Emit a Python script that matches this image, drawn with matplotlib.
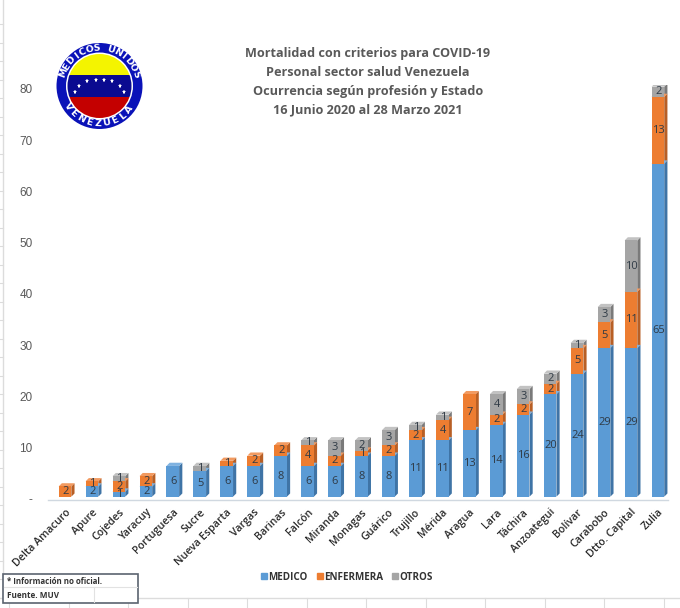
import numpy as np
import matplotlib
matplotlib.use("Agg")
import matplotlib.pyplot as plt
from matplotlib.patches import Circle, Rectangle, Polygon
from matplotlib.lines import Line2D

estados = ["Delta Amacuro","Apure","Cojedes","Yaracuy","Portuguesa","Sucre","Nueva Esparta","Vargas",
           "Barinas","Falcón","Miranda","Monagas","Guárico","Trujillo","Mérida","Aragua","Lara","Táchira",
           "Anzoategui","Bolívar","Carabobo","Dtto. Capital","Zulia"]
medico    = [0,2,1,2,6,5,6,6,8,6,6,8,8,11,11,13,14,16,20,24,29,29,65]
enfermera = [2,1,2,2,0,0,1,2,2,4,2,1,2,2,4,7,2,2,2,5,5,11,13]
otros     = [0,0,1,0,0,1,0,0,0,1,3,2,3,1,1,0,4,3,2,1,3,10,2]
titulo = ["Mortalidad con criterios para COVID-19","Personal sector salud Venezuela",
          "Ocurrencia según profesión y Estado","16 Junio 2020 al 28 Marzo 2021"]

W, H = 680, 608
fig = plt.figure(figsize=(W/100, H/100), dpi=100, facecolor="white")

# overlay in pixel coordinates for sheet grid, logo, note
bg = fig.add_axes([0, 0, 1, 1], zorder=0)
bg.set_xlim(0, W); bg.set_ylim(H, 0); bg.axis("off")
grid = "#dcdcdc"
bg.plot([3, 3], [0, 575], color=grid, lw=1)
for y in np.arange(24, 580, 18.5):
    bg.plot([0, 3], [y, y], color=grid, lw=0.8)
bg.plot([0, 680], [598, 598], color=grid, lw=1)
for x in np.arange(9, 680, 59.5):
    bg.plot([x, x], [598, 608], color=grid, lw=0.8)

# chart axes
L, R, T, B = 48, 668, 85, 500
ax = fig.add_axes([L/W, 1-B/H, (R-L)/W, (B-T)/H], zorder=1)
ax.patch.set_alpha(0)
px_x = 26.95; px_y = 5.125
ax.set_xlim((L-65)/px_x, (R-65)/px_x)
ax.set_ylim(-0.2, (499-T)/px_y)
x = np.arange(len(estados))
w = 0.47; base = 0.45
dx = 3.2/px_x; dy = 3.2/px_y
series = [(medico, "#5B9BD5", "#3F74A6", "#7FB2E0", "MEDICO"),
          (enfermera, "#ED7D31", "#B85F25", "#F29A60", "ENFERMERA"),
          (otros, "#A5A5A5", "#7A7A7A", "#C2C2C2", "OTROS")]
bottom = np.full(len(x), base, dtype=float)
for vals, c, cs, ct, lab in series:
    v = np.array(vals, float)
    ax.bar(x, v, w, bottom=bottom, color=c, lw=0, zorder=3)
    for xi, b, h in zip(x, bottom, v):
        if h <= 0:
            continue
        xr = xi + w/2
        ax.add_patch(Polygon([(xr, b), (xr+dx, b+dy), (xr+dx, b+h+dy), (xr, b+h)], color=cs, lw=0, zorder=2))
        xl = xi - w/2
        ax.add_patch(Polygon([(xl, b+h), (xl+dx, b+h+dy), (xr+dx, b+h+dy), (xr, b+h)], color=ct, lw=0, zorder=2.5))
        ax.text(xi + 0.02, b + h/2, f"{int(h)}", ha="center", va="center", fontsize=8,
                family="Open Sans", color="#2f3a45", zorder=5)
    bottom = bottom + v

for s in ["top", "right", "left"]:
    ax.spines[s].set_visible(False)
ax.spines["bottom"].set_color("#d0d8e0")
ax.spines["bottom"].set_linewidth(1)
ax.set_yticks(np.arange(0, 81, 10))
ax.set_yticklabels(["-"] + [str(v) for v in range(10, 81, 10)], fontsize=8.5,
                   family="Liberation Sans", color="#595959")
ax.tick_params(axis="y", length=0, pad=11)
ax.set_xticks(x)
ax.set_xticklabels(estados, rotation=45, ha="right", va="top", rotation_mode="anchor",
                   fontsize=7.7, family="Open Sans", fontweight="semibold", color="#2a2a2a")
ax.tick_params(axis="x", length=0, pad=5)

# title
for line, y in zip(titulo, [54, 73, 92, 110]):
    bg.text(368, y, line, ha="center", va="center", fontsize=9.05, fontweight="bold",
            family="Open Sans", color="#595959")

# legend
handles = [Line2D([], [], marker="s", ls="", ms=5, color=s[1], label=s[4]) for s in series]
leg = fig.legend(handles=handles, loc="center", bbox_to_anchor=(346/W, 1-577/H), ncol=3, frameon=False,
                 handletextpad=-0.1, columnspacing=0.75, handlelength=1.0,
                 prop={"family": "Open Sans", "size": 7.1, "weight": "bold"})
for t in leg.get_texts():
    t.set_color("#333333")

# logo
cx, cy, r = 99.5, 86, 43
ov = fig.add_axes([0, 0, 1, 1], zorder=2)
ov.set_xlim(0, W); ov.set_ylim(H, 0); ov.axis("off"); ov.patch.set_alpha(0)
ov.add_patch(Circle((cx, cy), r, color="#0A12B8", lw=0))
ov.add_patch(Circle((cx, cy), 33.5, color="white", lw=0))
clip = Circle((cx, cy), 32, transform=ov.transData)
for y0, h, c in [(cy-33, 22, "#F4F400"), (cy-11, 22, "#0A0A90"), (cy+11, 22, "#C40000")]:
    rr = Rectangle((cx-33, y0), 66, h, color=c, lw=0)
    ov.add_patch(rr); rr.set_clip_path(clip)
star_x = np.array([-24.8, -20.5, -12.2, -3.8, 4.5, 12.8, 20.2, 24.8])
star_y = np.array([6, -0.3, -4.7, -6, -6, -4.7, -0.3, 6])
ov.plot(cx+star_x, cy+star_y, ls="", marker="*", ms=3.6, color="white", mew=0)
def arc_text(s, start, end, rad, top=True):
    angs = np.linspace(start, end, len(s))
    for ch, a in zip(s, angs):
        ra = np.radians(a)
        px = cx + rad*np.sin(ra)
        py = cy - rad*np.cos(ra) if top else cy + rad*np.cos(ra)
        rot = -a if top else a
        ov.text(px, py, ch, ha="center", va="center", rotation=rot, fontsize=6.8, fontweight="bold",
                family="DejaVu Sans", color="white")
arc_text("MEDICOS UNIDOS", -70, 72, 38)
arc_text("VENEZUELA", -57, 52, 38, top=False)

# note box
ov.add_patch(Rectangle((3, 574), 135, 29, fc="white", ec="#5b6470", lw=1.2))
ov.plot([4, 137], [587, 587], color="#e2e2e2", lw=0.8)
ov.plot([94, 94], [587, 602], color="#e2e2e2", lw=0.8)
ov.text(7, 581, "* Información no oficial.", fontsize=5.7, fontweight="bold", family="Open Sans", color="#333333", va="center")
ov.text(7, 596, "Fuente. MUV", fontsize=5.9, fontweight="bold", family="Open Sans", color="#333333", va="center")

fig.savefig("out.png", dpi=100)
